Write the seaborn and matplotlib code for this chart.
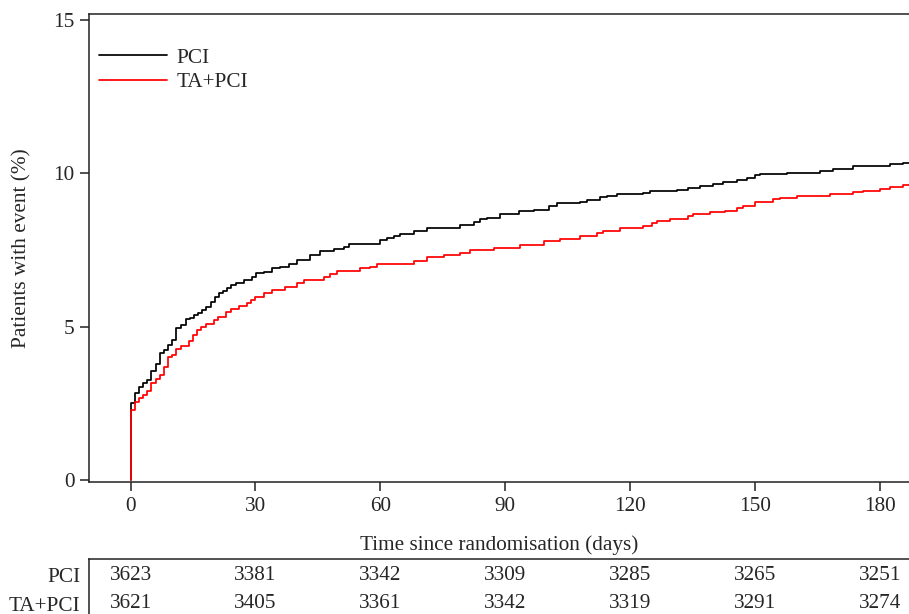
import matplotlib
matplotlib.use("Agg")
import matplotlib.pyplot as plt
import seaborn as sns
import pandas as pd

# ---- data ----
pci_days = [0, 0, 1, 2, 3, 4, 5, 6, 7, 8, 9, 10, 11, 12, 13.2, 14.2, 15.2, 16.2, 17.2, 18.2,
            19.2, 20.2, 21.2, 22.2, 23.2, 24.2, 25.2, 27.2, 29.2, 30.2, 32, 34, 36, 38, 40,
            43.2, 45.6, 48.8, 51.2, 52.4, 60, 61.6, 63.2, 64.8, 68, 71.2, 79.2, 82.4, 84,
            85.6, 88.8, 93.2, 96.8, 100.4, 102.4, 108, 109.6, 112.8, 114.4, 116.8, 123.2,
            124.8, 131.2, 134, 136.8, 140, 142.4, 145.6, 148, 150, 151.2, 157.6, 165.6,
            168.8, 173.6, 182.4, 185.6, 187]
pci_pct = [0, 2.51, 2.85, 3.02, 3.17, 3.26, 3.56, 3.80, 4.13, 4.24, 4.40, 4.56, 4.95, 5.05,
           5.24, 5.30, 5.38, 5.46, 5.54, 5.63, 5.81, 5.98, 6.11, 6.16, 6.25, 6.36, 6.43,
           6.52, 6.63, 6.74, 6.79, 6.90, 6.96, 7.04, 7.17, 7.34, 7.47, 7.54, 7.61, 7.69,
           7.83, 7.88, 7.96, 8.01, 8.13, 8.23, 8.31, 8.42, 8.50, 8.55, 8.67, 8.77, 8.80,
           8.93, 9.02, 9.07, 9.13, 9.22, 9.27, 9.33, 9.37, 9.42, 9.46, 9.53, 9.60, 9.65,
           9.71, 9.78, 9.84, 9.95, 9.98, 10.02, 10.09, 10.16, 10.25, 10.30, 10.35, 10.35]

ta_days = [0, 0, 1, 2, 3, 4, 5, 6, 7, 8, 9, 10, 11, 12, 14, 15, 16, 17, 18, 20, 21, 23, 24,
           26, 28, 29, 30, 32, 34, 37, 40, 41.6, 46.4, 48, 49.6, 55.2, 57.6, 59.2, 68, 71.2,
           75.2, 79.2, 81.6, 87.2, 93.6, 99.2, 103.2, 108, 112, 113.6, 117.6, 123.2, 125.2,
           126.4, 129.6, 134, 135.2, 139.2, 142.8, 145.6, 147.2, 150, 154.4, 156, 160, 168,
           173.6, 176, 180, 182.4, 185.6, 187]
ta_pct = [0, 2.28, 2.55, 2.66, 2.77, 2.90, 3.15, 3.31, 3.42, 3.69, 4.02, 4.08, 4.27, 4.37,
          4.54, 4.73, 4.89, 5.00, 5.08, 5.22, 5.32, 5.49, 5.57, 5.67, 5.76, 5.87, 5.98,
          6.09, 6.19, 6.30, 6.43, 6.52, 6.63, 6.71, 6.83, 6.90, 6.96, 7.06, 7.15, 7.26,
          7.34, 7.39, 7.50, 7.57, 7.66, 7.79, 7.85, 7.96, 8.06, 8.13, 8.21, 8.28, 8.39,
          8.45, 8.51, 8.61, 8.67, 8.75, 8.78, 8.86, 8.93, 9.07, 9.15, 9.20, 9.26, 9.33,
          9.38, 9.43, 9.49, 9.56, 9.61, 9.61]

groups = ["PCI", "TA+PCI"]
colors = ["black", "red"]
risk_times = [0, 30, 60, 90, 120, 150, 180]
pci_risk = [3623, 3381, 3342, 3309, 3285, 3265, 3251]
ta_risk = [3621, 3405, 3361, 3342, 3319, 3291, 3274]
x_ticks = [0, 30, 60, 90, 120, 150, 180]
y_ticks = [0, 5, 10, 15]

# ---- style ----
sns.set_theme(style="ticks")
plt.rcParams["font.family"] = ["Liberation Serif", "DejaVu Serif"]
FS = 15.3
plt.rcParams["font.size"] = FS

df = pd.concat([
    pd.DataFrame({"day": pci_days, "pct": pci_pct, "group": groups[0]}),
    pd.DataFrame({"day": ta_days, "pct": ta_pct, "group": groups[1]}),
], ignore_index=True)

W, H = 909, 614
fig = plt.figure(figsize=(W / 100, H / 100), dpi=100)
L, R, T, B = 89, 909, 14, 482.3
ax = fig.add_axes([L / W, (H - B) / H, (R - L) / W, (B - T) / H])

sns.lineplot(data=df, x="day", y="pct", hue="group", hue_order=groups,
             palette=dict(zip(groups, colors)), estimator=None, sort=False,
             drawstyle="steps-post", linewidth=1.25, ax=ax)

ax.set_xlim(-10, 187)
ax.set_ylim(-0.075, 15.2)
ax.set_xticks(x_ticks)
ax.set_yticks(y_ticks)
ax.tick_params(axis="both", labelsize=FS, length=6.5, width=1.1, color="#222222",
               direction="out", pad=4)
for s in ["left", "bottom", "top"]:
    ax.spines[s].set_linewidth(1.1)
    ax.spines[s].set_color("#222222")
ax.spines["right"].set_visible(False)

ax.set_xlabel("Time since randomisation (days)", fontsize=FS)
ax.xaxis.label.set_va("center")
ax.xaxis.set_label_coords(0.5, (B - 545) / (B - T))
ax.set_ylabel("Patients with event (%)", fontsize=FS)
ax.yaxis.label.set_va("center")
ax.yaxis.set_label_coords((22 - L) / (R - L), 0.5)

leg = ax.legend(loc="upper left", frameon=False, fontsize=FS,
                bbox_to_anchor=((99 - L) / (R - L), (B - 48) / (B - T)),
                borderaxespad=0, borderpad=0, handlelength=3.2,
                handletextpad=0.45, labelspacing=0.22)
for h in leg.get_lines():
    h.set_linewidth(1.25)

# ---- risk table ----
TT = 559
ax2 = fig.add_axes([L / W, 0, (R - L) / W, (H - TT) / H], sharex=ax)
ax2.set_ylim(0, 1)
row_y = [(H - 575.5) / (H - TT), (H - 604) / (H - TT)]
ax2.set_yticks(row_y)
ax2.set_yticklabels(groups)
ax2.tick_params(axis="y", length=0, pad=6, labelsize=FS)
ax2.tick_params(axis="x", bottom=False, labelbottom=False)
for s in ["right", "bottom"]:
    ax2.spines[s].set_visible(False)
for s in ["left", "top"]:
    ax2.spines[s].set_linewidth(1.1)
    ax2.spines[s].set_color("#222222")
for yv, vals in zip(row_y, [pci_risk, ta_risk]):
    for t, n in zip(risk_times, vals):
        ax2.text(t, yv, str(n), ha="center", va="center", fontsize=FS)

fig.savefig("out.png", dpi=100)
